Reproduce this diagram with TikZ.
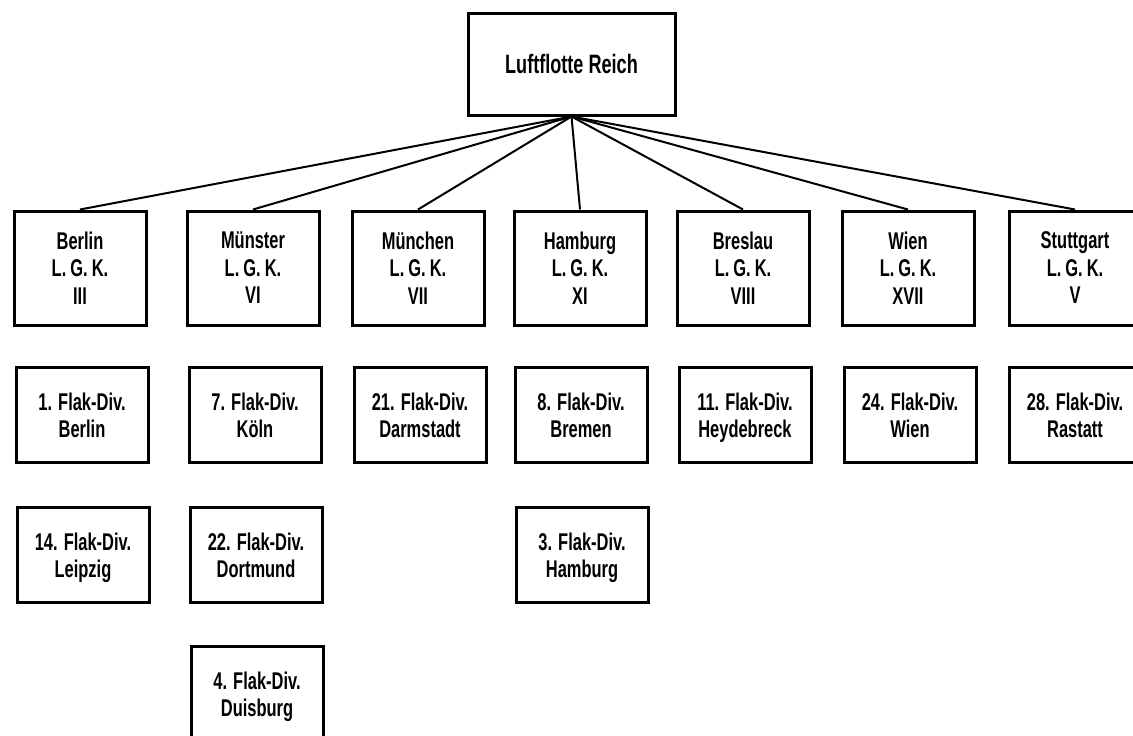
\documentclass[tikz,border=0pt]{standalone}
\usepackage{fontspec}
\setmainfont{Liberation Sans}[FakeStretch=0.68]

\begin{document}
\begin{tikzpicture}[x=0.5pt,y=-0.5pt,
        box/.style={draw,line width=1.5pt,align=center,inner sep=0pt,text depth=0pt,minimum width=66pt,font=\bfseries\fontsize{12.1}{13.75}\selectfont},
        lgk/.style={box,minimum height=57pt},
        div/.style={box,minimum height=47.5pt},
        link/.style={line width=1pt}]
        \useasboundingbox(0,0)rectangle(1133,735);
        \clip(0,0)rectangle(1133,735);
        % command
        \node[box,minimum width=103.5pt,minimum height=51pt,font=\bfseries\fontsize{13.3}{14}\selectfont](reich)at(571.5,64){Luftflotte Reich};
        % Luftgaukommandos
        \node[lgk](berlin)at(80,268){Berlin\\L.\,G.\,K.\\III};
        \node[lgk](muenster)at(253,268){Münster\\L.\,G.\,K.\\VI};
        \node[lgk](muenchen)at(418,268){München\\L.\,G.\,K.\\VII};
        \node[lgk](hamburg)at(580,268){Hamburg\\L.\,G.\,K.\\XI};
        \node[lgk](breslau)at(743,268){Breslau\\L.\,G.\,K.\\VIII};
        \node[lgk](wien)at(908,268){Wien\\L.\,G.\,K.\\XVII};
        \node[lgk](stuttgart)at(1075,268){Stuttgart\\L.\,G.\,K.\\V};
        % Flak divisions
        \node[div](d1)at(82,415){1. Flak-Div.\\Berlin};
        \node[div](d7)at(255,415){7. Flak-Div.\\Köln};
        \node[div](d21)at(420,415){21. Flak-Div.\\Darmstadt};
        \node[div](d8)at(581,415){8. Flak-Div.\\Bremen};
        \node[div](d11)at(745,415){11. Flak-Div.\\Heydebreck};
        \node[div](d24)at(910,415){24. Flak-Div.\\Wien};
        \node[div](d28)at(1075,415){28. Flak-Div.\\Rastatt};
        \node[div](d14)at(83,555){14. Flak-Div.\\Leipzig};
        \node[div](d22)at(256,555){22. Flak-Div.\\Dortmund};
        \node[div](d3)at(582,555){3. Flak-Div.\\Hamburg};
        \node[div](d4)at(257,694){4. Flak-Div.\\Duisburg};
        \foreach \n in {berlin,muenster,muenchen,hamburg,breslau,wien,stuttgart}
            \draw[link](reich.south)--(\n.north);
    \end{tikzpicture}
\end{document}
